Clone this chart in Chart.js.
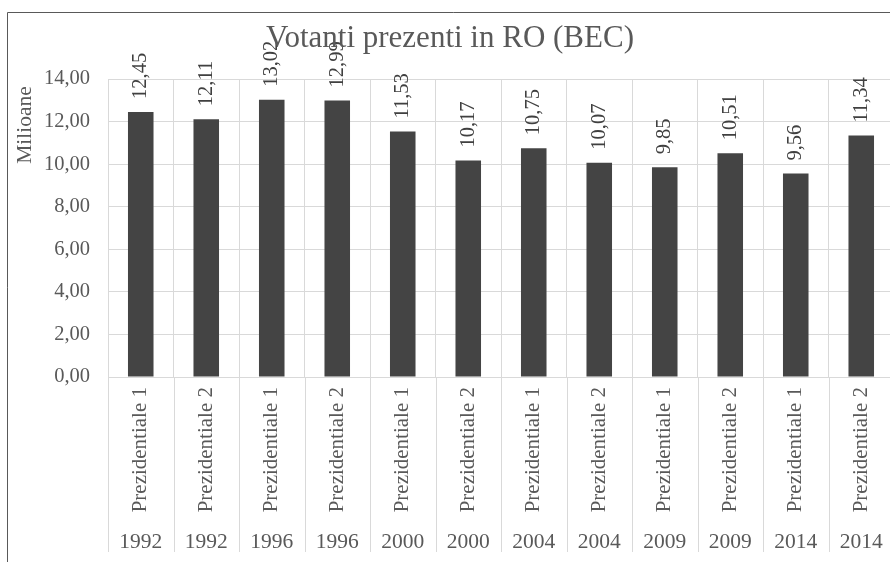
<!DOCTYPE html>
<html>
<head>
<meta charset="utf-8">
<script src="https://cdn.jsdelivr.net/npm/chart.js@4/dist/chart.umd.min.js"></script>
<style>
  html, body { margin: 0; padding: 0; background: #fff; overflow: hidden; }
  #wrap { width: 900px; height: 562px; }
</style>
</head>
<body>
<div id="wrap"><canvas id="chart" width="900" height="562"></canvas></div>
<script>
const rounds = ["Prezidentiale 1", "Prezidentiale 2", "Prezidentiale 1", "Prezidentiale 2", "Prezidentiale 1", "Prezidentiale 2",
  "Prezidentiale 1", "Prezidentiale 2", "Prezidentiale 1", "Prezidentiale 2", "Prezidentiale 1", "Prezidentiale 2"];
const years = ["1992", "1992", "1996", "1996", "2000", "2000", "2004", "2004", "2009", "2009", "2014", "2014"];
const voters = [12.45, 12.11, 13.02, 12.99, 11.53, 10.17, 10.75, 10.07, 9.85, 10.51, 9.56, 11.34];

const FONT = "'Liberation Serif', 'DejaVu Serif', serif";
const fmt = (v) => Number(v).toFixed(2).replace(".", ",");

const extras = {
  id: "extras",
  afterDatasetsDraw(chart) {
    const { ctx } = chart;
    const meta = chart.getDatasetMeta(0);
    ctx.save();
    ctx.fillStyle = "#404040";
    ctx.font = `20.5px ${FONT}`;
    ctx.textAlign = "left";
    ctx.textBaseline = "middle";
    meta.data.forEach((bar, i) => {
      ctx.save();
      ctx.translate(bar.x, bar.y - 13);
      ctx.rotate(-Math.PI / 2);
      ctx.fillText(fmt(voters[i]), 0, 0);
      ctx.restore();
    });
    ctx.restore();
  },
  afterDraw(chart) {
    const { ctx, chartArea } = chart;
    const xs = chart.scales.x;
    ctx.save();

    // frame
    ctx.strokeStyle = "#595959";
    ctx.lineWidth = 1;
    ctx.beginPath();
    ctx.moveTo(7.5, 562);
    ctx.lineTo(7.5, 12.5);
    ctx.lineTo(900, 12.5);
    ctx.stroke();

    // separators in the category area
    const step = xs.getPixelForValue(1) - xs.getPixelForValue(0);
    ctx.strokeStyle = "#d9d9d9";
    ctx.beginPath();
    for (let i = 0; i <= years.length; i++) {
      const x = Math.round(xs.getPixelForValue(i) - step / 2) + 0.5;
      ctx.moveTo(x, chartArea.bottom);
      ctx.lineTo(x, 552);
    }
    ctx.stroke();

    // years
    ctx.fillStyle = "#595959";
    ctx.font = `21.5px ${FONT}`;
    ctx.textAlign = "center";
    ctx.textBaseline = "alphabetic";
    years.forEach((y, i) => ctx.fillText(y, xs.getPixelForValue(i), 548));

    // title
    ctx.font = `31px ${FONT}`;
    ctx.fillText("Votanti prezenti in RO (BEC)", 450, 47);

    // y axis title
    ctx.font = `21.5px ${FONT}`;
    ctx.translate(25, 125);
    ctx.rotate(-Math.PI / 2);
    ctx.textBaseline = "middle";
    ctx.fillText("Milioane", 0, 0);
    ctx.restore();
  }
};

new Chart(document.getElementById("chart"), {
  type: "bar",
  data: {
    labels: rounds,
    datasets: [
      {
        label: "Votanti",
        data: voters,
        backgroundColor: "#444444",
        barPercentage: 0.39,
        categoryPercentage: 1,
      },
    ],
  },
  options: {
    responsive: false,
    animation: false,
    layout: { padding: { top: 79, left: 0, right: 6, bottom: 0 } },
    plugins: { legend: { display: false }, tooltip: { enabled: false } },
    scales: {
      x: {
        offset: true,
        grid: { offset: true, color: "#d9d9d9", drawTicks: false },
        border: { display: false },
        ticks: {
          autoSkip: false,
          minRotation: 90,
          maxRotation: 90,
          padding: 10,
          color: "#595959",
          font: { family: FONT, size: 21 },
        },
        afterFit(scale) { scale.height = 185; },
      },
      y: {
        min: 0,
        max: 14,
        grid: { color: "#d9d9d9", drawTicks: false },
        border: { display: false },
        ticks: {
          stepSize: 2,
          padding: 18,
          color: "#595959",
          font: { family: FONT, size: 20.5 },
          callback: (v) => fmt(v),
        },
        afterFit(scale) { scale.width = 108; },
      },
    },
  },
  plugins: [extras],
});
</script>
</body>
</html>
